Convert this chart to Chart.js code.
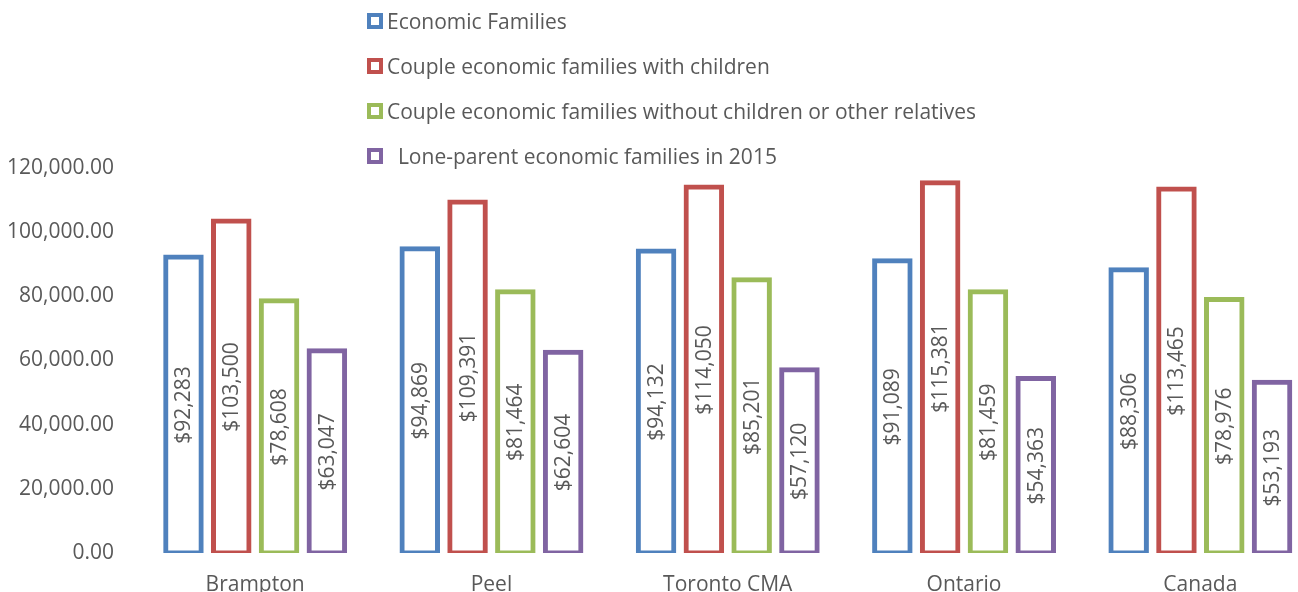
<!DOCTYPE html>
<html>
<head>
<meta charset="utf-8">
<title>Economic families median income</title>
<script src="https://cdn.jsdelivr.net/npm/chart.js@4.4.1/dist/chart.umd.min.js"></script>
<style>
    html, body {
        margin: 0;
        padding: 0;
        background: #ffffff;
        overflow: hidden;
        width: 1298px;
        height: 592px;
    }
    #wrap {
        position: absolute;
        left: 0;
        top: 0;
    }
    #legend {
        position: absolute;
        left: 367px;
        top: -2px;
        font-family: "Open Sans", sans-serif;
        font-size: 21px;
        color: #595959;
    }
    .item {
        height: 45px;
        display: flex;
        align-items: center;
        white-space: pre;
    }
    .box {
        width: 16px;
        height: 16px;
        box-sizing: border-box;
        border: 4px solid;
        background: #ffffff;
        margin-right: 4px;
    }
</style>
</head>
<body>
<div id="wrap">
    <canvas id="chartIncome" width="1320" height="620"></canvas>
    <div id="legend"></div>
</div>
<script>
var categories = ['Brampton', 'Peel', 'Toronto CMA', 'Ontario', 'Canada'];

var seriesNames = [
    'Economic Families',
    'Couple economic families with children',
    'Couple economic families without children or other relatives',
    '  Lone-parent economic families in 2015'
];

var economicFamilies = [92283, 94869, 94132, 91089, 88306];
var coupleWithChildren = [103500, 109391, 114050, 115381, 113465];
var coupleWithoutChildren = [78608, 81464, 85201, 81459, 78976];
var loneParent = [63047, 62604, 57120, 54363, 53193];

var yTicks = [0, 20000, 40000, 60000, 80000, 100000, 120000];

var colors = ['#4F81BD', '#C0504D', '#9BBB59', '#8064A2'];
var textColor = '#595959';
var fontFamily = '"Open Sans", sans-serif';

// value labels written vertically in the middle of each bar
const barLabels = {
    id: 'barLabels',
    afterDatasetsDraw: function (chart) {
        const c = chart.ctx;
        c.save();
        c.font = '21px ' + fontFamily;
        c.fillStyle = textColor;
        c.textAlign = 'center';
        c.textBaseline = 'middle';
        chart.data.datasets.forEach(function (ds, i) {
            chart.getDatasetMeta(i).data.forEach(function (bar, j) {
                var txt = '$' + ds.data[j].toLocaleString('en-US');
                c.save();
                c.translate(bar.x, (bar.y + bar.base) / 2);
                c.rotate(-Math.PI / 2);
                c.fillText(txt, 0, 1);
                c.restore();
            });
        });
        c.restore();
    }
};

const ctx = document.getElementById('chartIncome').getContext('2d');

const myChart = new Chart(ctx, {
    type: 'bar',
    data: {
        labels: categories,
        datasets: [
            { label: seriesNames[0], data: economicFamilies },
            { label: seriesNames[1], data: coupleWithChildren },
            { label: seriesNames[2], data: coupleWithoutChildren },
            { label: seriesNames[3], data: loneParent }
        ].map(function (ds, i) {
            ds.backgroundColor = '#ffffff';
            ds.borderColor = colors[i];
            ds.borderWidth = 5;
            ds.borderSkipped = false;
            ds.inflateAmount = 2.5;
            ds.categoryPercentage = 0.809;
            ds.barPercentage = 0.743;
            return ds;
        })
    },
    options: {
        responsive: false,
        animation: false,
        devicePixelRatio: 1,
        layout: {
            padding: { top: 168, right: 1.5, bottom: 3.8, left: 0 }
        },
        plugins: {
            legend: { display: false },
            tooltip: { enabled: false }
        },
        scales: {
            x: {
                grid: { display: false, drawTicks: false },
                border: { display: false },
                ticks: {
                    padding: 19,
                    color: textColor,
                    font: { family: fontFamily, size: 21 }
                }
            },
            y: {
                min: 0,
                max: 120000,
                afterFit: function (scale) {
                    scale.width = 137;
                },
                afterBuildTicks: function (scale) {
                    scale.ticks = yTicks.map(function (v) { return { value: v }; });
                },
                grid: { display: false, drawTicks: false },
                border: { display: false },
                ticks: {
                    padding: 23,
                    color: textColor,
                    font: { family: fontFamily, size: 21 },
                    callback: function (v) {
                        return Number(v).toLocaleString('en-US', { minimumFractionDigits: 2, maximumFractionDigits: 2 });
                    }
                }
            }
        }
    },
    plugins: [barLabels]
});

// html legend, one entry per row
var legendEl = document.getElementById('legend');
myChart.data.datasets.forEach(function (ds) {
    var row = document.createElement('div');
    row.className = 'item';
    var box = document.createElement('span');
    box.className = 'box';
    box.style.borderColor = ds.borderColor;
    var txt = document.createElement('span');
    txt.textContent = ds.label;
    row.appendChild(box);
    row.appendChild(txt);
    legendEl.appendChild(row);
});
</script>
</body>
</html>
